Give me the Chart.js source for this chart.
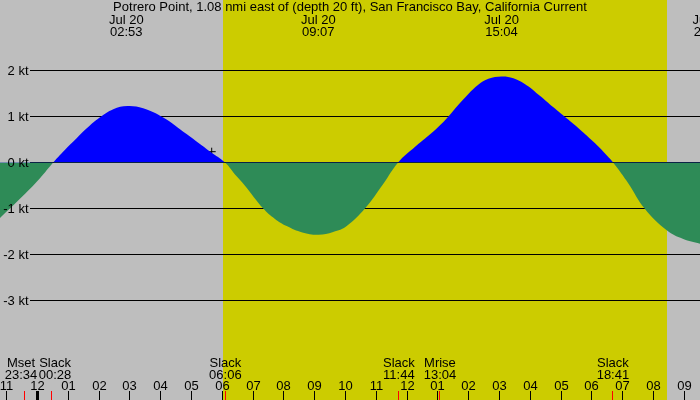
<!DOCTYPE html>
<html>
<head>
<meta charset="utf-8">
<script src="https://cdn.jsdelivr.net/npm/chart.js@4.4.0/dist/chart.umd.min.js"></script>
<style>
html, body { margin: 0; padding: 0; background: #bebebe; }
canvas { display: block; }
</style>
</head>
<body>
<canvas id="tideChart" width="700" height="400"></canvas>
<script>
// hours after midnight Jul 20 (negative = evening of Jul 19), current in knots
const curveHours = [-1.22, -0.57, 0.08, 0.51,
                    0.94, 1.27, 1.59, 2.02, 2.46, 2.92, 3.43, 4.08, 4.84, 5.62, 6.09,
                    6.45, 6.73, 7.33, 7.7, 8.09, 8.6, 9.12, 9.6, 10.04, 10.63, 11.23, 11.71,
                    12.26, 12.69, 13.01, 13.34, 13.66, 13.99, 14.31, 14.64, 15.07,
                    15.45, 15.88, 16.31, 16.75, 17.18, 17.61, 18.05, 18.48, 18.69,
                    19.19, 19.71, 20.44, 20.95, 21.52];
const curveKnots = [-1.21, -0.79, -0.34, 0,
                    0.31, 0.53, 0.74, 0.98, 1.16, 1.23, 1.18, 0.98, 0.62, 0.23, 0,
                    -0.29, -0.5, -1.0, -1.22, -1.38, -1.52, -1.57, -1.51, -1.38, -1.0, -0.46, 0,
                    0.34, 0.58, 0.77, 1.0, 1.25, 1.49, 1.69, 1.82, 1.87,
                    1.83, 1.68, 1.45, 1.2, 0.96, 0.72, 0.45, 0.16, 0,
                    -0.46, -1.0, -1.48, -1.66, -1.77];

const gridKnots = [2, 1, 0, -1, -2, -3];
const gridLabels = ['2 kt', '1 kt', '0 kt', '-1 kt', '-2 kt', '-3 kt'];

const hourTicks = [-1, 0, 1, 2, 3, 4, 5, 6, 7, 8, 9, 10, 11, 12, 13, 14, 15, 16, 17, 18, 19, 20, 21];
const hourLabels = ['11', '12', '01', '02', '03', '04', '05', '06', '07', '08', '09', '10',
                    '11', '12', '01', '02', '03', '04', '05', '06', '07', '08', '09'];

const eventNames = ['Mset', 'Slack', 'Slack', 'Slack', 'Mrise', 'Slack'];
const eventTimes = ['23:34', '00:28', '06:06', '11:44', '13:04', '18:41'];
const eventHours = [-0.433, 0.467, 6.1, 11.733, 13.067, 18.683];

const peakDates = ['Jul 20', 'Jul 20', 'Jul 20', 'Jul 20'];
const peakTimes = ['02:53', '09:07', '15:04', '21:50'];
const peakHours = [2.883, 9.117, 15.067, 21.833];

const sunrise = 6.03;
const sunset = 20.44;
const nowHour = 5.656;
const nowKnots = 0.235;

const title = 'Potrero Point, 1.08 nmi east of (depth 20 ft), San Francisco Bay, California Current';
const FONT = '13px "Liberation Sans", Arial, sans-serif';

// fond jour / nuit, grille, textes
const backdrop = {
    id: 'backdrop',
    beforeDraw(chart) {
        const ctx = chart.ctx, x = chart.scales.x;
        ctx.save();
        ctx.fillStyle = '#bebebe';
        ctx.fillRect(0, 0, chart.width, chart.height);
        ctx.fillStyle = '#cccc00';
        const a = Math.round(x.getPixelForValue(sunrise)), b = Math.round(x.getPixelForValue(sunset));
        ctx.fillRect(a, 0, b - a, chart.height);
        ctx.restore();
    },
    beforeDatasetsDraw(chart) {
        const ctx = chart.ctx, y = chart.scales.y;
        ctx.save();
        ctx.strokeStyle = '#000';
        ctx.lineWidth = 1;
        gridKnots.forEach(k => {
            const py = Math.round(y.getPixelForValue(k) - 0.5) + 0.5;
            ctx.beginPath();
            ctx.moveTo(30, py);
            ctx.lineTo(chart.width, py);
            ctx.stroke();
        });
        ctx.restore();
    },
    afterDraw(chart) {
        const ctx = chart.ctx, x = chart.scales.x, y = chart.scales.y;
        ctx.save();
        ctx.fillStyle = '#000';
        ctx.font = FONT;

        ctx.textAlign = 'right';
        gridKnots.forEach((k, i) => {
            const py = Math.round(y.getPixelForValue(k) - 0.5) + 0.5;
            ctx.fillText(gridLabels[i], 28.5, py + 4);
        });

        ctx.textAlign = 'center';
        ctx.fillText(title, chart.width / 2, 11);

        peakHours.forEach((h, i) => {
            const px = x.getPixelForValue(h);
            ctx.fillText(peakDates[i], px, 24);
            ctx.fillText(peakTimes[i], px, 36);
        });

        // hour ticks
        hourTicks.forEach((h, i) => {
            const px = Math.floor(x.getPixelForValue(h));
            ctx.fillStyle = '#000';
            if (h === 0) ctx.fillRect(px - 1, 391, 3, 9);
            else ctx.fillRect(px, 391, 1, 9);
            ctx.fillText(hourLabels[i], px + 0.5, 390);
        });

        // event ticks + labels, pushed apart when too close
        const pos = eventHours.map(h => x.getPixelForValue(h));
        const lab = pos.slice();
        for (let i = 1; i < lab.length; i++) {
            const gap = lab[i] - lab[i - 1];
            if (gap < 34) {
                lab[i - 1] -= (34 - gap) / 2;
                lab[i] += (34 - gap) / 2;
            }
        }
        ctx.fillStyle = '#ff0000';
        pos.forEach(px => ctx.fillRect(Math.floor(px), 391, 1, 9));
        ctx.fillStyle = '#000';
        eventNames.forEach((n, i) => {
            ctx.fillText(n, lab[i], 366.5);
            ctx.fillText(eventTimes[i], lab[i], 378.5);
        });
        ctx.restore();
    }
};

new Chart(document.getElementById('tideChart'), {
    type: 'line',
    data: {
        datasets: [{
            data: curveHours.map((h, i) => ({ x: h, y: curveKnots[i] })),
            borderWidth: 0,
            borderColor: 'rgba(0,0,0,0)',
            pointRadius: 0,
            tension: 0.4,
            fill: { target: 'origin', above: '#0000ff', below: '#2e8b57' }
        }, {
            type: 'scatter',
            data: [{ x: nowHour, y: nowKnots }],
            pointStyle: 'cross',
            pointRadius: 4,
            borderColor: '#000',
            borderWidth: 1
        }]
    },
    options: {
        responsive: false,
        animation: false,
        devicePixelRatio: 1,
        layout: { padding: 0, autoPadding: false },
        plugins: { legend: { display: false }, tooltip: { enabled: false } },
        scales: {
            x: { type: 'linear', display: false, min: -1.2175, max: 21.51 },
            y: { type: 'linear', display: false, min: -5.163, max: 3.533 }
        }
    },
    plugins: [backdrop]
});
</script>
</body>
</html>
